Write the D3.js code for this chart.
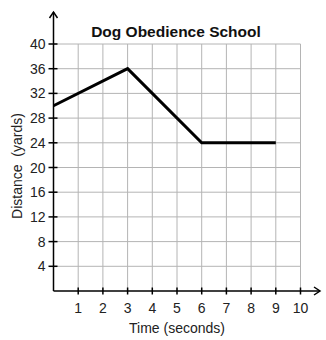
<!DOCTYPE html>
<html>
<head>
<meta charset="utf-8">
<script src="https://cdn.jsdelivr.net/npm/d3@7"></script>
<style>
  body { margin: 0; background: #fff; }
  svg { display: block; font-family: Arial, "Liberation Sans", sans-serif; }
</style>
</head>
<body>
<svg id="chart" width="326" height="340"></svg>
<script>
// Distance over time for the obedience-school walk
const times = [0, 3, 6, 9];
const distances = [30, 36, 24, 24];
const xTicks = [1, 2, 3, 4, 5, 6, 7, 8, 9, 10];
const yTicks = [4, 8, 12, 16, 20, 24, 28, 32, 36, 40];

const svg = d3.select("#chart");
const x = d3.scaleLinear().domain([0, 10]).range([53.5, 300.5]);
const y = d3.scaleLinear().domain([0, 40]).range([291, 44]);

// grid
const grid = svg.append("g").attr("stroke", "#b4b4b4").attr("stroke-width", 1);
grid.selectAll("line.v").data(xTicks).join("line")
  .attr("x1", d => x(d)).attr("x2", d => x(d))
  .attr("y1", y(0)).attr("y2", y(40));
grid.selectAll("line.h").data(yTicks).join("line")
  .attr("x1", x(0)).attr("x2", x(10))
  .attr("y1", d => y(d)).attr("y2", d => y(d));

// axes with arrowheads
const axes = svg.append("g").attr("stroke", "#000").attr("stroke-width", 1.5).attr("fill", "none");
axes.append("line").attr("x1", x(0)).attr("x2", x(0)).attr("y1", y(0)).attr("y2", 12);
axes.append("path").attr("d", `M${x(0) - 4},18 L${x(0)},12 L${x(0) + 4},18`);
axes.append("line").attr("x1", x(0)).attr("x2", 320).attr("y1", y(0)).attr("y2", y(0));
axes.append("path").attr("d", `M314,${y(0) - 4} L320,${y(0)} L314,${y(0) + 4}`);

// tick marks crossing the axes
axes.selectAll("line.xt").data(xTicks).join("line")
  .attr("x1", d => x(d)).attr("x2", d => x(d))
  .attr("y1", y(0) - 3.5).attr("y2", y(0) + 3.5);
axes.selectAll("line.yt").data(yTicks).join("line")
  .attr("x1", x(0) - 5).attr("x2", x(0) + 4)
  .attr("y1", d => y(d)).attr("y2", d => y(d));

// tick labels
svg.append("g").selectAll("text").data(xTicks).join("text")
  .attr("x", d => x(d)).attr("y", 313)
  .attr("text-anchor", "middle").attr("font-size", 14).attr("fill", "#222")
  .text(d => d);
svg.append("g").selectAll("text").data(yTicks).join("text")
  .attr("x", 45.5).attr("y", d => y(d) + 5)
  .attr("text-anchor", "end").attr("font-size", 14).attr("fill", "#222")
  .text(d => d);

// data line
const line = d3.line().x((d, i) => x(times[i])).y(d => y(d));
svg.append("path").datum(distances)
  .attr("d", line).attr("fill", "none")
  .attr("stroke", "#000").attr("stroke-width", 3).attr("stroke-linejoin", "miter");

// titles
svg.append("text").attr("x", 176).attr("y", 37)
  .attr("text-anchor", "middle").attr("font-size", 15.5).attr("font-weight", "bold")
  .attr("fill", "#111").text("Dog Obedience School");
svg.append("text").attr("x", 177).attr("y", 333)
  .attr("text-anchor", "middle").attr("font-size", 14).attr("fill", "#222")
  .text("Time (seconds)");
svg.append("text").attr("transform", "translate(22,166) rotate(-90)")
  .attr("text-anchor", "middle").attr("font-size", 14).attr("fill", "#222")
  .attr("xml:space", "preserve").style("white-space", "pre")
  .text("Distance  (yards)");
</script>
</body>
</html>
